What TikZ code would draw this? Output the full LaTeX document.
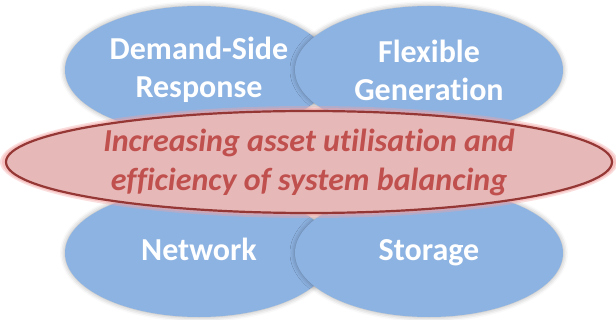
\documentclass[tikz,border=0pt]{standalone}
\usepackage{fontspec}
\setmainfont[RawFeature=-liga]{Carlito}
\usetikzlibrary{shapes.geometric,shadows.blur}
\definecolor{bluefill}{HTML}{8DB3E2}
\definecolor{redfill}{HTML}{E6B9B8}
\definecolor{redline}{HTML}{953735}
\definecolor{redtext}{HTML}{C0504D}
\definecolor{glow}{HTML}{F2A0A0}
\tikzset{
  blob/.style={ellipse, fill=bluefill, minimum width=268pt, minimum height=128pt,
    inner sep=0pt, text=white, align=center,
    font=\fontsize{32}{38}\selectfont\bfseries,
    blur shadow={shadow xshift=0pt, shadow yshift=0pt, shadow blur radius=5pt, shadow opacity=35}},
  core/.style={ellipse, fill=redfill, draw=redline, line width=2.2pt,
    minimum width=606pt, minimum height=102pt, inner sep=0pt, text=redtext,
    align=center, font=\fontsize{32}{39}\selectfont\bfseries\itshape},
}
\begin{document}
\begin{tikzpicture}[x=1pt,y=1pt]
\useasboundingbox (0,0) rectangle (616,-320);
\node[blob] (dsr) at (199,-70) {Demand-Side\\Response};
\node[blob] (flex) at (429,-70) {Flexible\\Generation};
\node[blob] (net) at (199,-253) {\strut Network};
\node[blob] (sto) at (429,-253) {\strut Storage};
% glow around central ellipse
\fill[glow, opacity=0.35] (309,-162) ellipse (309 and 56);
\fill[glow, opacity=0.45] (309,-162) ellipse (307 and 54);
\node[core] (aim) at (309,-162) {Increasing asset utilisation and\\efficiency of system balancing};
\end{tikzpicture}
\end{document}
